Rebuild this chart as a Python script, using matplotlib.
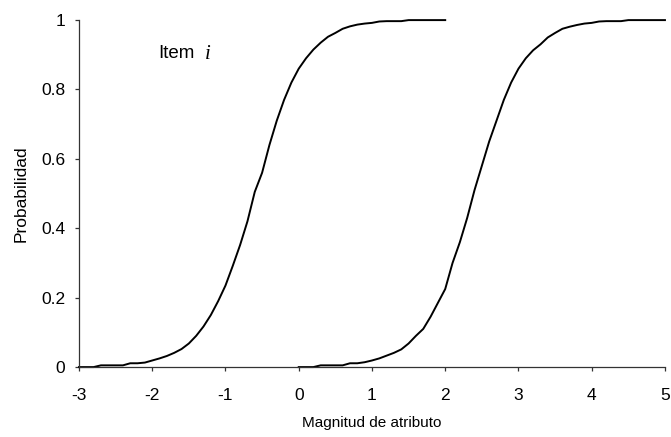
import matplotlib
matplotlib.use("Agg")
import matplotlib.pyplot as plt

# Item characteristic curves: probability vs. attribute magnitude
x_left = [-3.0, -2.9, -2.8, -2.7, -2.6, -2.5, -2.4, -2.3, -2.2, -2.1,
          -2.0, -1.9, -1.8, -1.7, -1.6, -1.5, -1.4, -1.3, -1.2, -1.1,
          -1.0, -0.9, -0.8, -0.7, -0.6, -0.5, -0.4, -0.3, -0.2, -0.1,
          0.0, 0.1, 0.2, 0.3, 0.4, 0.5, 0.6, 0.7, 0.8, 0.9,
          1.0, 1.1, 1.2, 1.3, 1.4, 1.5, 1.6, 1.7, 1.8, 1.9, 2.0]
p_left = [0.000, 0.000, 0.000, 0.005, 0.005, 0.005, 0.005, 0.011, 0.011, 0.013,
          0.019, 0.025, 0.032, 0.041, 0.052, 0.068, 0.090, 0.117, 0.150, 0.190,
          0.235, 0.292, 0.352, 0.420, 0.505, 0.560, 0.640, 0.710, 0.770, 0.820,
          0.860, 0.890, 0.915, 0.935, 0.952, 0.963, 0.975, 0.982, 0.987, 0.990,
          0.992, 0.996, 0.997, 0.997, 0.997, 1.000, 1.000, 1.000, 1.000, 1.000, 1.000]

x_right = [0.0, 0.1, 0.2, 0.3, 0.4, 0.5, 0.6, 0.7, 0.8, 0.9,
           1.0, 1.1, 1.2, 1.3, 1.4, 1.5, 1.6, 1.7, 1.8, 1.9,
           2.0, 2.1, 2.2, 2.3, 2.4, 2.5, 2.6, 2.7, 2.8, 2.9,
           3.0, 3.1, 3.2, 3.3, 3.4, 3.5, 3.6, 3.7, 3.8, 3.9,
           4.0, 4.1, 4.2, 4.3, 4.4, 4.5, 4.6, 4.7, 4.8, 4.9, 5.0]
p_right = [0.000, 0.000, 0.000, 0.005, 0.005, 0.005, 0.005, 0.011, 0.011, 0.014,
           0.019, 0.025, 0.033, 0.041, 0.051, 0.068, 0.090, 0.110, 0.145, 0.185,
           0.225, 0.300, 0.360, 0.430, 0.510, 0.580, 0.650, 0.710, 0.770, 0.820,
           0.860, 0.890, 0.913, 0.930, 0.950, 0.963, 0.975, 0.981, 0.986, 0.990,
           0.992, 0.996, 0.997, 0.997, 0.997, 1.000, 1.000, 1.000, 1.000, 1.000, 1.000]

x_ticks = [-3, -2, -1, 0, 1, 2, 3, 4, 5]
y_ticks = [0, 0.2, 0.4, 0.6, 0.8, 1]
y_tick_labels = ["0", "0.2", "0.4", "0.6", "0.8", "1"]

plt.rcParams['font.family'] = ['Liberation Sans', 'DejaVu Sans']

fig = plt.figure(figsize=(6.71, 4.37), dpi=100)
ax = fig.add_axes([0.1177, 0.160, 0.8733, 0.794])

ax.plot(x_left, p_left, color='black', lw=1.4, clip_on=False)
ax.plot(x_right, p_right, color='black', lw=1.4, clip_on=False)

ax.set_xlim(-3, 5)
ax.set_ylim(0, 1)
ax.set_xticks(x_ticks)
ax.set_xticklabels([str(t) for t in x_ticks])
ax.set_yticks(y_ticks)
ax.set_yticklabels(y_tick_labels)

for side in ('top', 'right'):
    ax.spines[side].set_visible(False)
for side in ('left', 'bottom'):
    ax.spines[side].set_color('#333333')
    ax.spines[side].set_linewidth(0.9)

ax.tick_params(axis='both', direction='out', length=3, width=0.9,
               colors='#333333', labelsize=12.5, labelcolor='black')
ax.tick_params(axis='x', pad=12)
ax.tick_params(axis='y', pad=7)

ax.set_xlabel("Magnitud de atributo", fontsize=11)
ax.set_ylabel("Probabilidad", fontsize=12.5)
ax.xaxis.set_label_coords(0.5, -0.141)
ax.yaxis.set_label_coords(-0.086, 0.5)

ax.text(0.135, 0.903, "Item", transform=ax.transAxes, fontsize=13.5,
        ha='left', va='center')
ax.text(0.2155, 0.900, "i", transform=ax.transAxes, fontsize=15,
        family='Liberation Serif', style='italic', ha='left', va='center')

fig.savefig("out.png", dpi=100)
